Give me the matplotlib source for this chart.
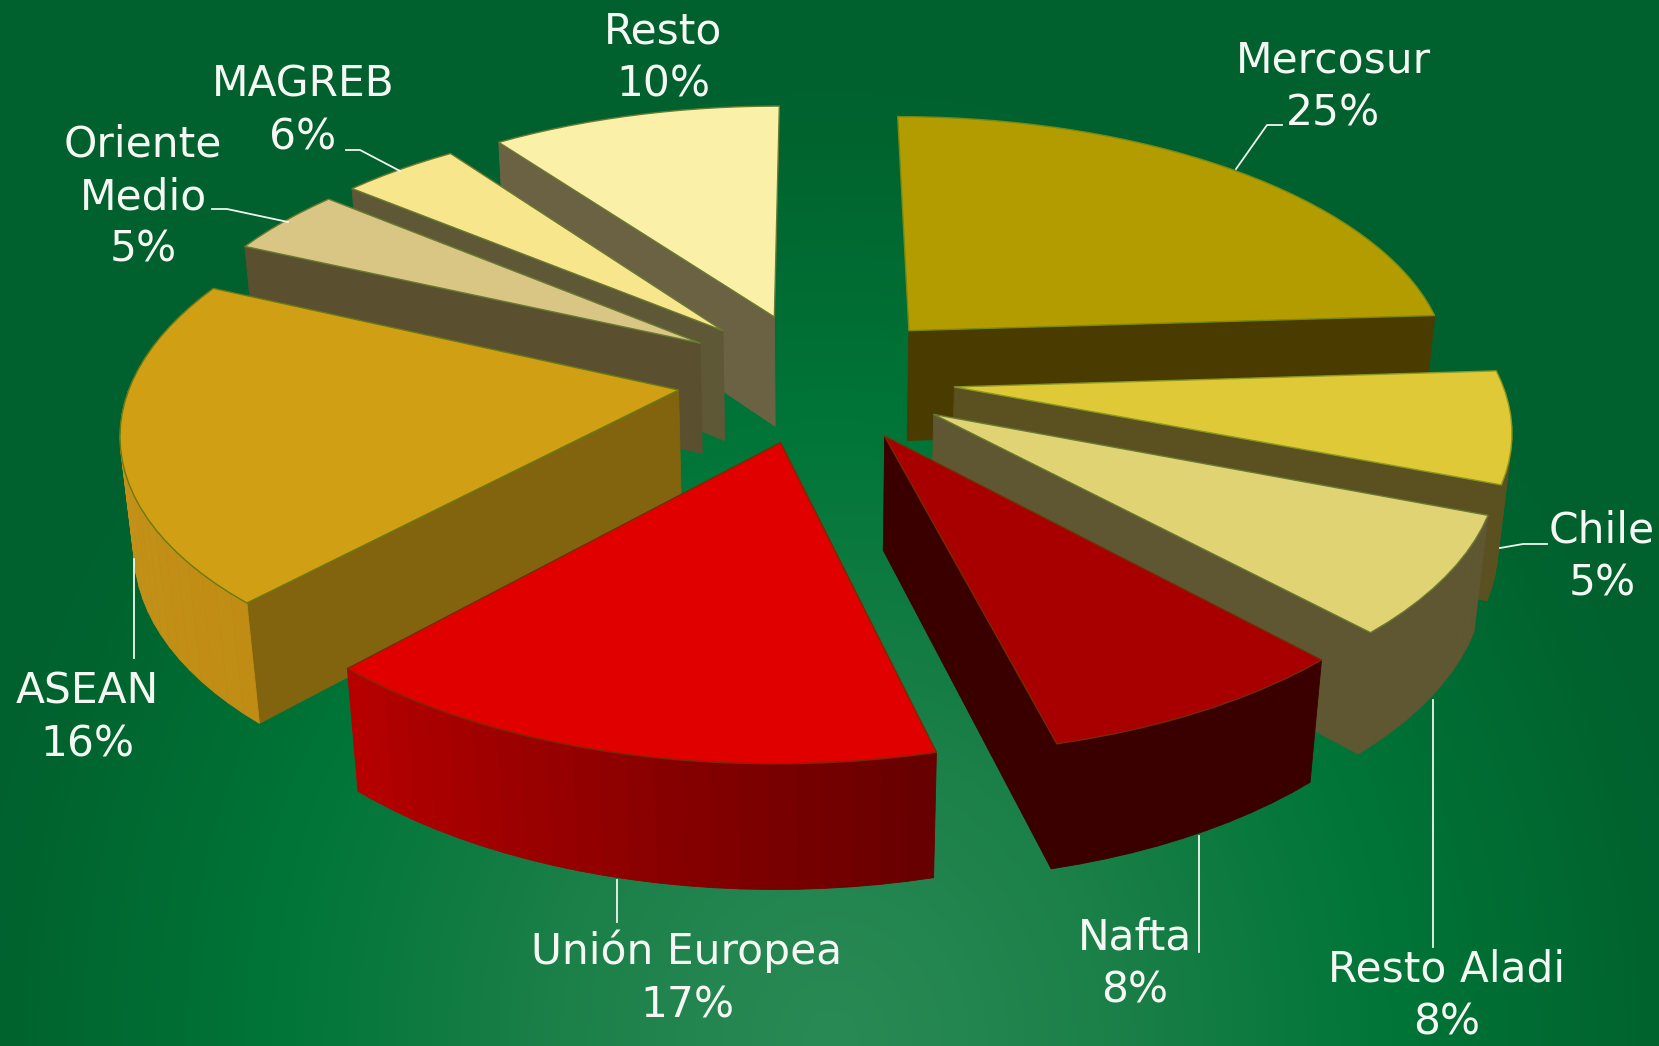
import numpy as np
import matplotlib
matplotlib.use('Agg')
import matplotlib.pyplot as plt
from matplotlib.colors import LinearSegmentedColormap, to_rgb

names = ['Mercosur', 'Chile', 'Resto Aladi', 'Nafta', 'Unión Europea',
         'ASEAN', 'Oriente\nMedio', 'MAGREB', 'Resto']
# what the labels say
values = [25, 5, 8, 8, 17, 16, 5, 6, 10]
shares = [24.0, 6.85, 7.25, 7.95, 15.8, 19.95, 4.15, 4.05, 10.0]

top_colors = ['#b39c00', '#e0c936', '#e0d374', '#a80000', '#e00000',
              '#d09f14', '#d9c684', '#f8e68c', '#fbf0a8']
cut_colors = ['#4a3c00', '#5a5020', '#5f5632', '#3a0000', '#5a0000',
              '#82640f', '#5a5030', '#5f5836', '#6b6244']
# outer wall goes from the first colour to the second, clockwise
wall_from = ['#4a3c00', '#5a5020', '#5f5632', '#3a0000', '#650000',
             '#c08c14', '#5a5030', '#5f5836', '#6b6244']
wall_to = ['#4a3c00', '#5a5020', '#5f5632', '#3a0000', '#b80000',
           '#c8981e', '#5a5030', '#5f5836', '#6b6244']
edge_colors = ['#7a8a10', '#8a9a20', '#6a7a30', '#7a2a00', '#7a2a00',
               '#6a7a10', '#6a7a30', '#6a7a30', '#6a7a30']

# label text anchor (centre) and leader line, in pixels of the picture
label_pos = [(1333, 87), (1602, 557), (1447, 996), (1135, 964), (687, 978),
             (87, 718), (143, 197), (303, 111), (663, 58)]
leaders = [[(1282, 125), (1267, 125), (1236, 169)],
           [(1547, 544), (1523, 544), (1500, 548)],
           [(1433, 947), (1433, 700)],
           [(1199, 952), (1199, 836)],
           [(617, 922), (617, 880)],
           [(134, 658), (134, 559)],
           [(212, 209), (227, 209), (288, 222)],
           [(346, 150), (360, 150), (400, 171)]]

# camera
W, H_PX = 1659, 1046
CX, CY = 816, 377
A, B, K = 546, 256, 0.14
WALL, M = 114, 0.02
EXPLODE = 0.255


def project(x, y, d=0.0):
    s = 1 / (1 + K * y + M * d)
    return CX + A * x * s, CY - B * y * s + WALL * d * s


def mix(c1, c2, t):
    c1, c2 = np.array(to_rgb(c1)), np.array(to_rgb(c2))
    return tuple(c1 + (c2 - c1) * t)


fig = plt.figure(figsize=(W / 100, H_PX / 100), dpi=100)
ax = fig.add_axes([0, 0, 1, 1])
ax.axis('off')

# background, radial glow from the bottom
yy, xx = np.mgrid[0:H_PX:4, 0:W:4]
r = np.sqrt(((xx - 830) / 900) ** 2 + ((yy - 1040) / 1000) ** 2)
cmap = LinearSegmentedColormap.from_list(
    'bg', [(0, '#2a8a55'), (0.3, '#1c8049'), (0.62, '#007537'), (0.9, '#00642f'), (1, '#00602e')])
ax.imshow(np.clip(r, 0, 1), cmap=cmap, vmin=0, vmax=1, extent=(0, W, H_PX, 0), aspect='auto', zorder=0)
ax.set_xlim(0, W)
ax.set_ylim(H_PX, 0)

edges = np.cumsum([0] + shares) / sum(shares) * 360
slices = []
for i in range(len(shares)):
    mid = np.radians((edges[i] + edges[i + 1]) / 2)
    slices.append((np.cos(mid), i, mid))

z = 10
for _, i, mid in sorted(slices, reverse=True):
    ox, oy = EXPLODE * np.sin(mid), EXPLODE * np.cos(mid)
    n = max(int(shares[i] * 1.5), 6)
    th = np.radians(np.linspace(edges[i], edges[i + 1], n + 1))
    rim_x = ox + np.sin(th)
    rim_y = oy + np.cos(th)

    quads = []
    # outer wall, the far side of the rim is never seen
    for j in range(n):
        if np.cos((th[j] + th[j + 1]) / 2) > 0.02:
            continue
        q = [(rim_x[j], rim_y[j], 0), (rim_x[j + 1], rim_y[j + 1], 0),
             (rim_x[j + 1], rim_y[j + 1], 1), (rim_x[j], rim_y[j], 1)]
        quads.append((q, mix(wall_from[i], wall_to[i], (j + 0.5) / n)))
    # cut faces, only the ones turned to the viewer
    for k, sign in ((0, -1), (-1, 1)):
        if sign * np.sin(th[k]) > 1e-6:
            q = [(ox, oy, 0), (rim_x[k], rim_y[k], 0), (rim_x[k], rim_y[k], 1), (ox, oy, 1)]
            quads.append((q, cut_colors[i]))
    quads.sort(key=lambda item: -np.mean([p[1] for p in item[0]]))

    for q, col in quads:
        px = [project(*p) for p in q]
        ax.fill([p[0] for p in px], [p[1] for p in px], facecolor=col, edgecolor=col,
                linewidth=0.6, zorder=z)
        z += 1

    # top of the slice
    px = [project(ox, oy)] + [project(a, b) for a, b in zip(rim_x, rim_y)]
    ax.fill([p[0] for p in px], [p[1] for p in px], facecolor=top_colors[i],
            edgecolor=edge_colors[i], linewidth=1.0, joinstyle='round', zorder=z)
    z += 1

for line in leaders:
    ax.plot([p[0] for p in line], [p[1] for p in line], color='#f0f5ee', lw=1.3, zorder=z)

for name, v, (tx, ty) in zip(names, values, label_pos):
    ax.text(tx, ty, f'{name}\n{v}%', color='#f4f7f2', fontsize=30.5, ha='center', va='center',
            family='DejaVu Sans', linespacing=1.33, zorder=z + 1)

fig.savefig('out.png', dpi=100)
